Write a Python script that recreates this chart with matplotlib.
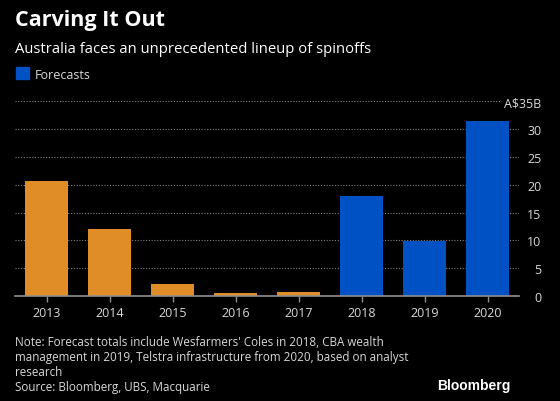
import matplotlib
matplotlib.use('Agg')
import matplotlib.pyplot as plt
import matplotlib.patches as mpatches

years = ['2013', '2014', '2015', '2016', '2017', '2018', '2019', '2020']
values = [20.7, 12.0, 2.2, 0.5, 0.8, 18.0, 9.9, 31.4]
is_forecast = [False, False, False, False, False, True, True, True]
yticks = [0, 5, 10, 15, 20, 25, 30, 35]
ytick_labels = ['0', '5', '10', '15', '20', '25', '30', 'A$35B']

orange = '#E08D28'
blue = '#0051C4'
plt.rcParams['font.family'] = ['Open Sans', 'DejaVu Sans']

fig = plt.figure(figsize=(5.6, 4.02), dpi=100)
fig.patch.set_facecolor('black')
ax = fig.add_axes([0.027, 0.261, 0.9, 0.485])
ax.set_facecolor('black')

colors = [blue if f else orange for f in is_forecast]
ax.bar(range(len(years)), values, width=0.68, color=colors, zorder=2)

ax.set_xlim(-0.5, len(years) - 0.5)
ax.set_ylim(0, 35)
ax.set_xticks(range(len(years)))
ax.set_xticklabels(years, color='#d8d8d8', fontsize=9)
ax.yaxis.tick_right()
ax.set_yticks(yticks)
ax.set_yticklabels(ytick_labels, color='#d8d8d8', fontsize=9)
for lab in ax.get_yticklabels():
    lab.set_horizontalalignment('right')
    lab.set_bbox(dict(facecolor='black', edgecolor='none', pad=1.5))
ax.tick_params(axis='y', length=0, pad=16)
ax.tick_params(axis='x', length=4, color='#909090', width=1)
ax.grid(axis='y', color='#808080', linestyle=(0, (1, 1.5)), linewidth=0.8, zorder=0)
for s in ['top', 'left', 'right']:
    ax.spines[s].set_visible(False)
ax.spines['bottom'].set_color('#909090')
ax.spines['bottom'].set_linewidth(1.2)
ax.spines['bottom'].set_zorder(3)

fig.text(0.027, 0.935, 'Carving It Out', color='white', fontsize=15.5, fontweight='bold', va='baseline')
fig.text(0.027, 0.868, 'Australia faces an unprecedented lineup of spinoffs', color='white', fontsize=10.7, va='baseline')
fig.patches.append(mpatches.Rectangle((0.029, 0.8), 0.022, 0.032, color=blue, transform=fig.transFigure, figure=fig))
fig.text(0.062, 0.803, 'Forecasts', color='#d8d8d8', fontsize=9, va='baseline')

note = ("Note: Forecast totals include Wesfarmers' Coles in 2018, CBA wealth\n"
        "management in 2019, Telstra infrastructure from 2020, based on analyst\n"
        "research\n"
        "Source: Bloomberg, UBS, Macquarie")
fig.text(0.027, 0.165, note, color='#d8d8d8', fontsize=8.4, va='top', linespacing=1.2)
fig.text(0.911, 0.03, 'Bloomberg', color='white', fontsize=10, fontweight='bold', ha='right', va='baseline',
         family=['Liberation Sans', 'DejaVu Sans'])

fig.savefig('out.png', dpi=100, facecolor='black')
